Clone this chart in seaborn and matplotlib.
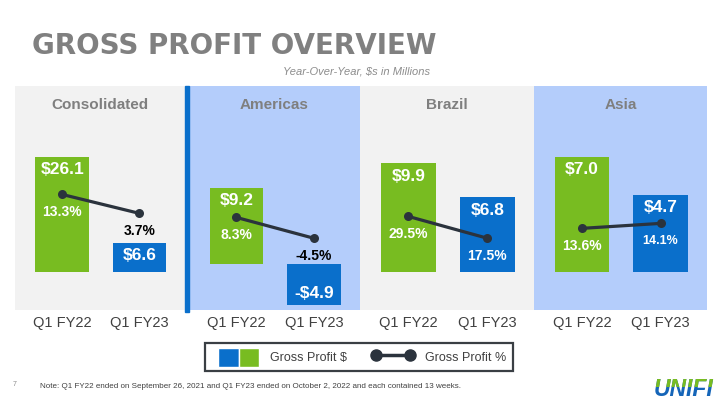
import numpy as np
import matplotlib
matplotlib.use("Agg")
import matplotlib.pyplot as plt
import seaborn as sns
from matplotlib.patches import Rectangle, Patch
from matplotlib.lines import Line2D
from matplotlib.legend_handler import HandlerTuple

# ---- data ----
regions = ["Consolidated", "Americas", "Brazil", "Asia"]
periods = ["Q1 FY22", "Q1 FY23"]
gp_fy22 = [26.1, 9.2, 9.9, 7.0]      # gross profit, $M
gp_fy23 = [6.6, -4.9, 6.8, 4.7]
gm_fy22 = [13.3, 8.3, 29.5, 13.6]    # gross profit %, margin
gm_fy23 = [3.7, -4.5, 17.5, 14.1]

# ---- style ----
GREEN = "#78BC21"
BLUE = "#0A6FCB"
GREY_BG = "#F2F2F2"
BLUE_BG = "#B4CDFB"
LINE = "#2B333D"
TXT = "#404040"
panel_bg = [GREY_BG, BLUE_BG, GREY_BG, BLUE_BG]
# each panel has its own scales in the original slide
bar_ylims = [(-8.6, 42.1), (-5.5, 21.4), (-3.4, 16.9), (-2.3, 11.3)]
pct_ylims = [(-45.3, 68.3), (-48.4, 88.8), (-21.9, 101.1), (5.4, 27.9)]
pct_colors = [["white", "black"], ["white", "black"], ["white", "white"], ["white", "white"]]
panel_x = [(15, 185), (189, 360), (360, 534), (534, 707)]

sns.set_style("white")
plt.rcParams["font.family"] = ["Liberation Sans", "DejaVu Sans"]

W, H = 720, 405
fig = plt.figure(figsize=(7.2, 4.05), dpi=100)

top_px, bot_px = 86, 310
for i, region in enumerate(regions):
    x0, x1 = panel_x[i]
    ax = fig.add_axes([x0 / W, 1 - bot_px / H, (x1 - x0) / W, (bot_px - top_px) / H])
    ax.set_facecolor(panel_bg[i])
    vals = [gp_fy22[i], gp_fy23[i]]
    sns.barplot(x=periods, y=vals, hue=periods, palette=[GREEN, BLUE],
                width=0.69, saturation=1, legend=False, linewidth=0, ax=ax)
    ax.set_ylim(*bar_ylims[i])
    ax.set_xlim(-0.61, 1.59)
    for s in ax.spines.values():
        s.set_visible(False)
    ax.set_yticks([])
    ax.set_ylabel("")
    ax.tick_params(axis="x", length=0, pad=4, labelsize=10.5, labelcolor=TXT)

    # dollar labels inside the bar ends
    for j, v in enumerate(vals):
        txt = f"{'-' if v < 0 else ''}${abs(v):.1f}"
        off = -13 if v >= 0 else 12
        ax.annotate(txt, (j, v), xytext=(0, off), textcoords="offset pixels",
                    ha="center", va="center", color="white",
                    fontsize=12.5, fontweight="bold")

    ax.text(0.5, 0.915, region, transform=ax.transAxes, ha="center", va="center",
            fontsize=11, fontweight="bold", color="#7F7F7F")

    # margin line on its own axis
    ax2 = ax.twinx()
    pcts = [gm_fy22[i], gm_fy23[i]]
    sns.lineplot(x=np.arange(len(periods)), y=pcts, ax=ax2, color=LINE,
                 linewidth=2.3, marker="o", markersize=6.5, markeredgewidth=0)
    ax2.set_ylim(*pct_ylims[i])
    ax2.set_xlim(-0.61, 1.59)
    ax2.set_yticks([])
    ax2.set_ylabel("")
    for s in ax2.spines.values():
        s.set_visible(False)
    for j, p in enumerate(pcts):
        ax2.annotate(f"{p:.1f}%", (j, p), xytext=(0, -18), textcoords="offset pixels",
                     ha="center", va="center", color=pct_colors[i][j],
                     fontsize=10 if i < 3 or j == 0 else 9, fontweight="bold")

# divider strip between consolidated and segments
fig.patches.append(Rectangle((185 / W, 1 - 312 / H), 4 / W, (312 - 86) / H,
                             transform=fig.transFigure, color=BLUE, zorder=5))

# title block
fig.text(32 / W, 1 - 46 / H, "GROSS PROFIT OVERVIEW", ha="left", va="center",
         fontsize=20, fontweight="bold", color="#808080", family="DejaVu Sans")
fig.text(430 / W, 1 - 72 / H, "Year-Over-Year, $s in Millions", ha="right", va="center",
         fontsize=8, style="italic", color="#8C8C8C")

# legend (frame drawn separately)
fig.patches.append(Rectangle((205 / W, 1 - 371 / H), 308 / W, 28 / H,
                             transform=fig.transFigure, facecolor="white",
                             edgecolor="#3A3F44", linewidth=1.6, zorder=1))
bar_handle = (Patch(facecolor=BLUE), Patch(facecolor=GREEN))
line_handle = Line2D([0, 1], [0, 0], color=LINE, linewidth=2.5, marker="o", markersize=8)
leg = fig.legend([bar_handle, line_handle], ["Gross Profit $", "Gross Profit %"],
                 handler_map={tuple: HandlerTuple(ndivide=None, pad=0)},
                 loc="center", bbox_to_anchor=(362 / W, 1 - 357.5 / H), ncol=2,
                 numpoints=2, fontsize=9, frameon=False,
                 handlelength=3.3, handleheight=2.0, columnspacing=2.0,
                 handletextpad=0.9, borderpad=0, borderaxespad=0)
leg.set_zorder(6)
for t in leg.get_texts():
    t.set_color(TXT)

# footer
fig.text(13 / W, 1 - 385 / H, "7", fontsize=5, color="#8C8C8C", va="center")
fig.text(40 / W, 1 - 386 / H,
         "Note: Q1 FY22 ended on September 26, 2021 and Q1 FY23 ended on October 2, 2022 "
         "and each contained 13 weeks.", fontsize=5.75, color=TXT, va="center")

# logo: blue word with green upper part
logo_kw = dict(ha="center", va="center", fontsize=16.5, fontweight="bold",
               style="italic")
fig.text(684 / W, 1 - 389 / H, "UNIFI", color="#1565B8", **logo_kw)
green_logo = fig.text(684 / W, 1 - 389 / H, "UNIFI", color=GREEN, **logo_kw)
clip = Rectangle((0, 1 - 387 / H), 1, 1, transform=fig.transFigure)
green_logo.set_clip_path(clip)

fig.savefig("out.png", dpi=100)
